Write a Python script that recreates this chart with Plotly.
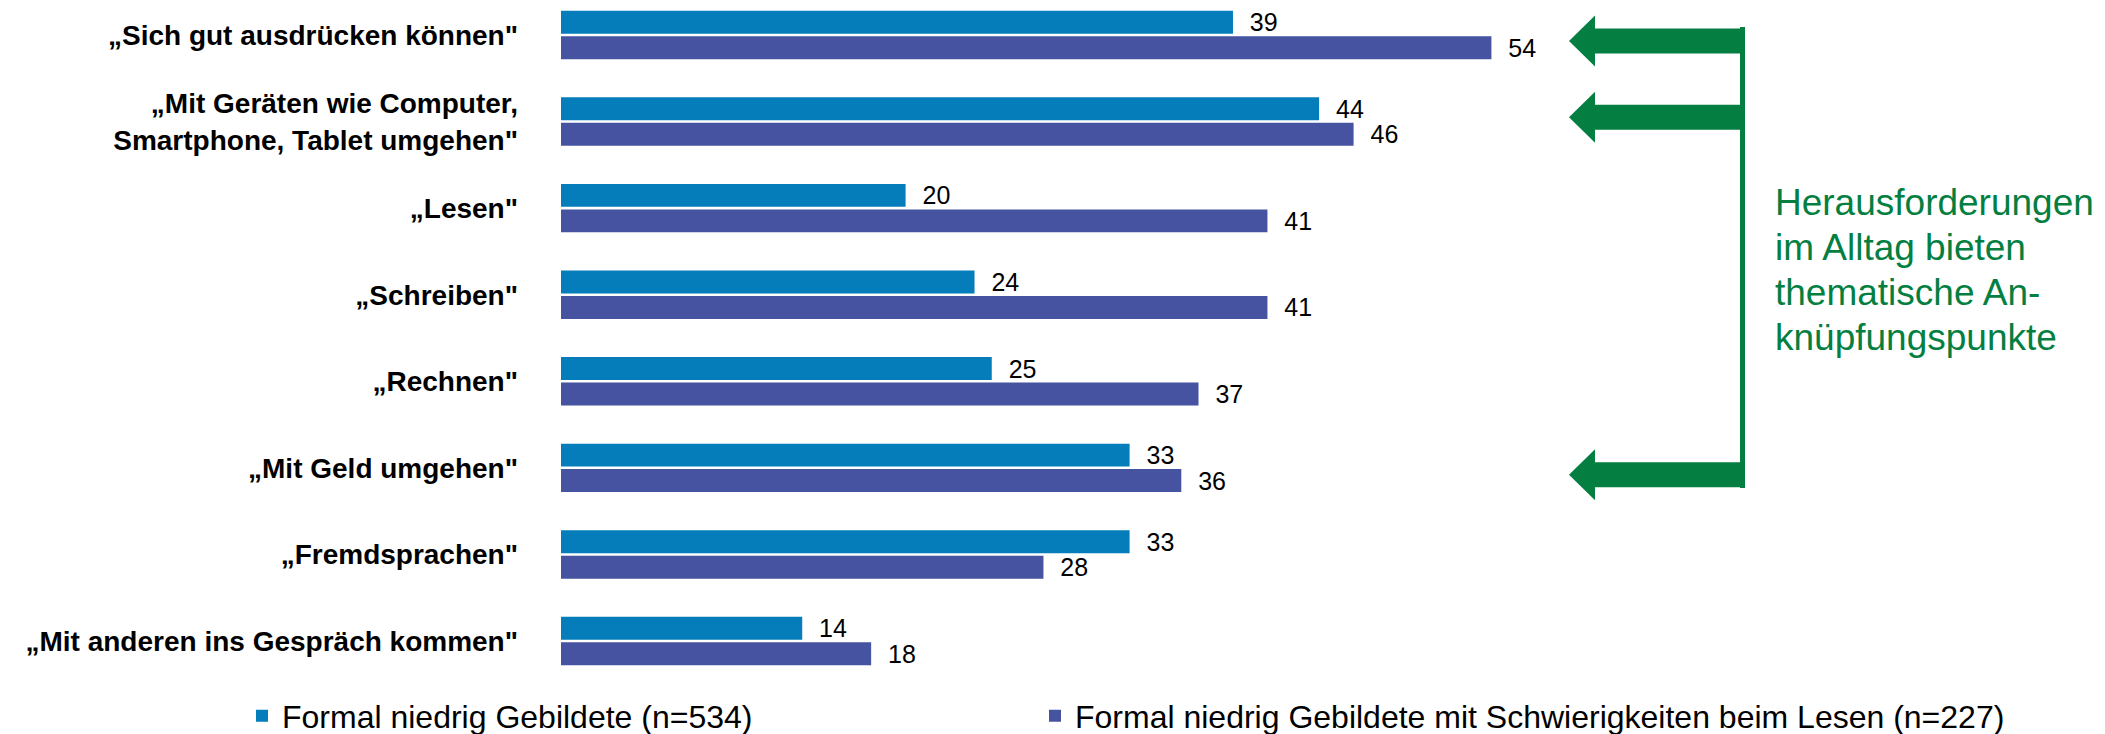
import plotly.graph_objects as go

categories = [
    '„Sich gut ausdrücken können"',
    '„Mit Geräten wie Computer,<br>Smartphone, Tablet umgehen"',
    '„Lesen"',
    '„Schreiben"',
    '„Rechnen"',
    '„Mit Geld umgehen"',
    '„Fremdsprachen"',
    '„Mit anderen ins Gespräch kommen"',
]
series1_name = "Formal niedrig Gebildete (n=534)"
series1 = [39, 44, 20, 24, 25, 33, 33, 14]
series2_name = "Formal niedrig Gebildete mit Schwierigkeiten beim Lesen (n=227)"
series2 = [54, 46, 41, 41, 37, 36, 28, 18]
arrow_rows = [0.07, 0.95, 5.08]
note_lines = ["Herausforderungen", "im Alltag bieten", "thematische An-", "knüpfungspunkte"]

BLUE = "#047DBA"
PURPLE = "#4553A0"
GREEN = "#047F41"
FONT = "Liberation Sans, Arial, sans-serif"

W, H = 2105, 734
PX_PER_UNIT = 17.23
X0_PX = 561
ROW_PX = 86.57
PLOT_BOTTOM_PX = 690
FIRST_ROW_PX = 35

positions = list(range(len(categories)))

fig = go.Figure()
for name, vals, col, leg in [(series1_name, series1, BLUE, "legend"),
                             (series2_name, series2, PURPLE, "legend2")]:
    fig.add_trace(go.Bar(
        y=positions, x=vals, orientation="h", name=name, legend=leg,
        marker=dict(color=col, line=dict(width=0)),
        texttemplate="\u00a0\u00a0%{x}", textposition="outside",
        constraintext="none",
        textfont=dict(size=25, color="black", family=FONT),
        cliponaxis=False,
    ))

x_max = (W - X0_PX) / PX_PER_UNIT
y_top = -FIRST_ROW_PX / ROW_PX
y_bottom = y_top + PLOT_BOTTOM_PX / ROW_PX

def px_to_x(p):
    return (p - X0_PX) / PX_PER_UNIT

tip, hb, end = px_to_x(1569), px_to_x(1595), px_to_x(1745)
hh, sh = 25.5 / ROW_PX, 12.5 / ROW_PX
shapes = []
for yc in arrow_rows:
    path = (f"M {tip},{yc} L {hb},{yc - hh} L {hb},{yc - sh} L {end},{yc - sh} "
            f"L {end},{yc + sh} L {hb},{yc + sh} L {hb},{yc + hh} Z")
    shapes.append(dict(type="path", path=path, xref="x", yref="y",
                       fillcolor=GREEN, line=dict(width=0)))
vx = px_to_x(1742.5)
shapes.append(dict(type="line", xref="x", yref="y", x0=vx, x1=vx,
                   y0=(27 - FIRST_ROW_PX) / ROW_PX, y1=(488 - FIRST_ROW_PX) / ROW_PX,
                   line=dict(color=GREEN, width=5)))

note_center = 2.72
line_step = 45 / ROW_PX
annotations = []
for i, line in enumerate(note_lines):
    annotations.append(dict(
        text=line, xref="x", yref="y", x=px_to_x(1773),
        y=note_center + (i - (len(note_lines) - 1) / 2) * line_step,
        xanchor="left", yanchor="middle", align="left", showarrow=False,
        font=dict(size=37, color=GREEN, family=FONT)))

legend_common = dict(orientation="h", yanchor="middle", y=(H - 716) / H, xanchor="left",
                     font=dict(size=32, color="black", family=FONT),
                     bgcolor="rgba(0,0,0,0)")

fig.update_layout(
    width=W, height=H,
    margin=dict(l=0, r=0, t=0, b=0, autoexpand=False),
    paper_bgcolor="white", plot_bgcolor="white",
    font=dict(family=FONT, color="black"),
    barmode="group", bargap=0.411, bargroupgap=0.1,
    xaxis=dict(domain=[X0_PX / W, 1], range=[0, x_max], visible=False),
    yaxis=dict(domain=[(H - PLOT_BOTTOM_PX) / H, 1], range=[y_bottom, y_top],
               tickvals=positions, ticktext=categories, ticks="",
               showgrid=False, zeroline=False, showline=False,
               tickfont=dict(size=28, weight="bold", color="black", family=FONT),
               ticklabelstandoff=42, automargin=False),
    showlegend=True,
    legend=dict(x=242 / W, **legend_common),
    legend2=dict(x=1035 / W, **legend_common),
    shapes=shapes,
    annotations=annotations,
)

fig.write_html(
    "out.html",
    config={"displayModeBar": False},
    post_script="document.body.style.margin='0px';document.body.style.overflow='hidden';",
)
